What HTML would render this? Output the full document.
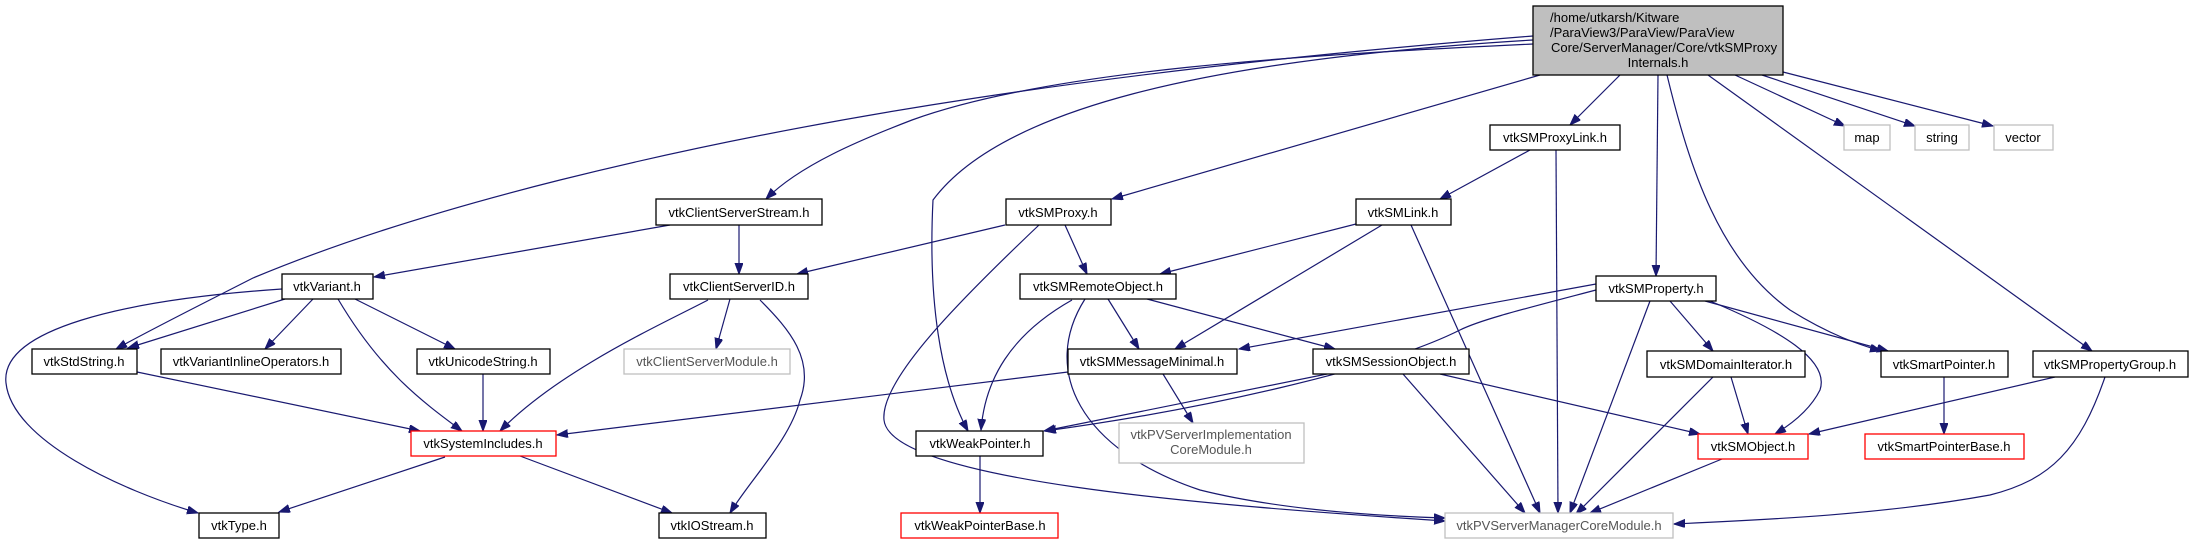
<!DOCTYPE html>
<html><head><meta charset="utf-8"><style>
html,body{margin:0;padding:0;background:#fff;}
svg{display:block;}
text{font-family:"Liberation Sans",Arial,sans-serif;font-size:13px;fill:#000;}
.e{fill:none;stroke:#191970;stroke-width:1.2;marker-end:url(#a);}
.n{fill:#fff;stroke:#000;stroke-width:1.3;}
.r{fill:#fff;stroke:#ff0000;stroke-width:1.3;}
.g{fill:#fff;stroke:#bfbfbf;stroke-width:1.3;}
</style></head><body>
<svg width="2190" height="544" viewBox="0 0 2190 544" xmlns="http://www.w3.org/2000/svg">
<defs><marker id="a" markerUnits="userSpaceOnUse" markerWidth="12" markerHeight="9" refX="11" refY="4" orient="auto"><path d="M0,0 L11,4 L0,8 z" fill="#191970" stroke="#191970"/></marker></defs>

<!-- edges -->
<path class="e" d="M1533,36 C1100,70 800,120 560,180 C420,215 320,250 253,278 C200,305 150,330 116,349"/>
<path class="e" d="M1533,44 C1300,55 1050,70 912,120 C860,140 800,165 766,199"/>
<path class="e" d="M1533,40 C1200,60 1000,110 933,200 C928,300 940,380 968,431"/>
<path class="e" d="M1540,75 L1112,199"/>
<path class="e" d="M1620,75 L1570,125"/>
<path class="e" d="M1658,75 L1656,276"/>
<path class="e" d="M1667,75 C1690,170 1720,260 1790,310 C1830,335 1860,345 1881,351"/>
<path class="e" d="M1708,75 L2092,351"/>
<path class="e" d="M1735,75 L1845,126"/>
<path class="e" d="M1762,75 L1915,126"/>
<path class="e" d="M1783,72 L1993,126"/>

<path class="e" d="M670,225 L374,277"/>
<path class="e" d="M739,225 L739,274"/>
<path class="e" d="M282,289 C120,300 0,330 6,383 C12,440 120,490 198,513"/>
<path class="e" d="M285,299 L128,348"/>
<path class="e" d="M313,299 L265,349"/>
<path class="e" d="M338,299 C380,370 420,400 462,431"/>
<path class="e" d="M355,299 L455,349"/>
<path class="e" d="M137,372 L420,431"/>
<path class="e" d="M483,374 L483,431"/>
<path class="e" d="M708,300 C660,325 560,370 500,431"/>
<path class="e" d="M730,299 L716,349"/>
<path class="e" d="M760,300 C790,330 815,360 800,400 C790,440 750,480 730,513"/>
<path class="e" d="M445,457 L279,512"/>
<path class="e" d="M520,456 L672,513"/>

<path class="e" d="M1005,225 L797,274"/>
<path class="e" d="M1065,225 L1087,274"/>
<path class="e" d="M1039,225 C960,300 880,380 884,420 C890,480 1200,505 1445,521"/>
<path class="e" d="M1356,224 L1160,274"/>
<path class="e" d="M1382,225 L1175,349"/>
<path class="e" d="M1411,225 L1540,513"/>
<path class="e" d="M1530,150 L1440,199"/>
<path class="e" d="M1556,150 L1558,513"/>
<path class="e" d="M1072,300 C1010,335 985,380 981,430"/>
<path class="e" d="M1108,299 L1139,349"/>
<path class="e" d="M1147,299 L1335,349"/>
<path class="e" d="M1085,299 C1040,370 1080,450 1200,490 C1280,510 1380,516 1445,518"/>
<path class="e" d="M1068,372 L557,435"/>
<path class="e" d="M1163,374 L1193,423"/>
<path class="e" d="M1327,374 L1044,431"/>
<path class="e" d="M1440,374 L1700,434"/>
<path class="e" d="M1403,374 L1525,513"/>
<path class="e" d="M1596,284 L1239,349"/>
<path class="e" d="M1596,290 C1520,310 1480,320 1460,330 C1380,370 1200,410 1045,431"/>
<path class="e" d="M1650,301 L1570,513"/>
<path class="e" d="M1670,301 L1713,351"/>
<path class="e" d="M1710,301 C1780,330 1830,360 1820,390 C1810,410 1790,425 1775,434"/>
<path class="e" d="M1705,301 L1888,351"/>
<path class="e" d="M1731,377 L1748,434"/>
<path class="e" d="M1713,377 L1576,514"/>
<path class="e" d="M1944,377 L1944,434"/>
<path class="e" d="M2055,377 L1809,434"/>
<path class="e" d="M2105,377 C2080,450 2050,480 1990,495 C1880,515 1760,520 1674,524"/>
<path class="e" d="M1722,459 L1590,513"/>
<path class="e" d="M980,456 L980,513"/>

<!-- nodes -->
<rect x="1533" y="6" width="250" height="69" fill="#bfbfbf" stroke="#000" stroke-width="1.3"/>
<text x="1550" y="22">/home/utkarsh/Kitware</text>
<text x="1550" y="37">/ParaView3/ParaView/ParaView</text>
<text x="1551" y="52">Core/ServerManager/Core/vtkSMProxy</text>
<text x="1658" y="67" text-anchor="middle">Internals.h</text>

<rect class="n" x="1490" y="125" width="130" height="25"/><text x="1555" y="142" text-anchor="middle">vtkSMProxyLink.h</text>
<rect class="g" x="1844" y="125" width="46" height="25"/><text x="1867" y="142" text-anchor="middle">map</text>
<rect class="g" x="1915" y="125" width="54" height="25"/><text x="1942" y="142" text-anchor="middle">string</text>
<rect class="g" x="1994" y="125" width="59" height="25"/><text x="2023" y="142" text-anchor="middle">vector</text>

<rect class="n" x="656" y="199" width="166" height="26"/><text x="739" y="217" text-anchor="middle">vtkClientServerStream.h</text>
<rect class="n" x="1006" y="199" width="105" height="26"/><text x="1058" y="217" text-anchor="middle">vtkSMProxy.h</text>
<rect class="n" x="1356" y="199" width="95" height="26"/><text x="1403" y="217" text-anchor="middle">vtkSMLink.h</text>

<rect class="n" x="282" y="274" width="91" height="25"/><text x="327" y="291" text-anchor="middle">vtkVariant.h</text>
<rect class="n" x="670" y="274" width="138" height="25"/><text x="739" y="291" text-anchor="middle">vtkClientServerID.h</text>
<rect class="n" x="1020" y="274" width="156" height="25"/><text x="1098" y="291" text-anchor="middle">vtkSMRemoteObject.h</text>
<rect class="n" x="1596" y="276" width="120" height="25"/><text x="1656" y="293" text-anchor="middle">vtkSMProperty.h</text>

<rect class="n" x="32" y="349" width="105" height="25"/><text x="84" y="366" text-anchor="middle">vtkStdString.h</text>
<rect class="n" x="161" y="349" width="180" height="25"/><text x="251" y="366" text-anchor="middle">vtkVariantInlineOperators.h</text>
<rect class="n" x="417" y="349" width="133" height="25"/><text x="483" y="366" text-anchor="middle">vtkUnicodeString.h</text>
<rect class="g" x="624" y="349" width="166" height="25"/><text x="707" y="366" text-anchor="middle" style="fill:#555">vtkClientServerModule.h</text>
<rect class="n" x="1068" y="349" width="169" height="25"/><text x="1152" y="366" text-anchor="middle">vtkSMMessageMinimal.h</text>
<rect class="n" x="1313" y="349" width="156" height="25"/><text x="1391" y="366" text-anchor="middle">vtkSMSessionObject.h</text>
<rect class="n" x="1647" y="351" width="158" height="26"/><text x="1726" y="369" text-anchor="middle">vtkSMDomainIterator.h</text>
<rect class="n" x="1881" y="351" width="127" height="26"/><text x="1944" y="369" text-anchor="middle">vtkSmartPointer.h</text>
<rect class="n" x="2033" y="351" width="155" height="26"/><text x="2110" y="369" text-anchor="middle">vtkSMPropertyGroup.h</text>

<rect class="r" x="411" y="431" width="145" height="25"/><text x="483" y="448" text-anchor="middle">vtkSystemIncludes.h</text>
<rect class="n" x="916" y="431" width="127" height="25"/><text x="980" y="448" text-anchor="middle">vtkWeakPointer.h</text>
<rect class="g" x="1119" y="423" width="185" height="40"/><text x="1211" y="439" text-anchor="middle" style="fill:#555">vtkPVServerImplementation</text><text x="1211" y="454" text-anchor="middle" style="fill:#555">CoreModule.h</text>
<rect class="r" x="1698" y="434" width="110" height="25"/><text x="1753" y="451" text-anchor="middle">vtkSMObject.h</text>
<rect class="r" x="1865" y="434" width="159" height="25"/><text x="1944" y="451" text-anchor="middle">vtkSmartPointerBase.h</text>

<rect class="n" x="199" y="513" width="80" height="25"/><text x="239" y="530" text-anchor="middle">vtkType.h</text>
<rect class="n" x="659" y="513" width="107" height="25"/><text x="712" y="530" text-anchor="middle">vtkIOStream.h</text>
<rect class="r" x="901" y="513" width="157" height="25"/><text x="980" y="530" text-anchor="middle">vtkWeakPointerBase.h</text>
<rect class="g" x="1445" y="513" width="228" height="25"/><text x="1559" y="530" text-anchor="middle" style="fill:#555">vtkPVServerManagerCoreModule.h</text>
</svg>
</body></html>
